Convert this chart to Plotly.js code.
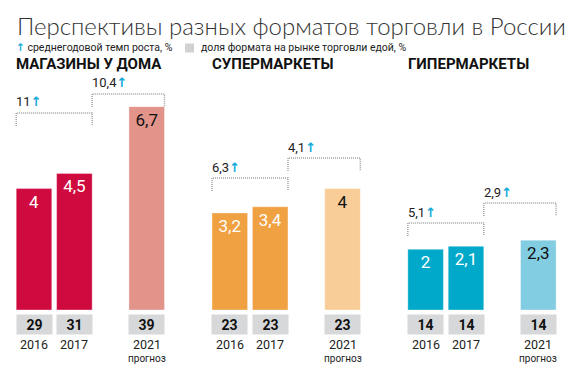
<!DOCTYPE html>
<html>
<head>
<meta charset="utf-8">
<script src="https://cdn.plot.ly/plotly-3.0.1.min.js"></script>
<style>html,body{margin:0;padding:0;background:#fff;}#chart{width:570px;height:375px;}</style>
</head>
<body>
<div id="chart"></div>
<script>
// ---------- DATA ----------
const formats = ['МАГАЗИНЫ У ДОМА', 'СУПЕРМАРКЕТЫ', 'ГИПЕРМАРКЕТЫ'];
const years = ['2016', '2017', '2021'];
const yearNotes = ['', '', 'прогноз'];
const valuesNearHome = [4, 4.5, 6.7];
const valuesSuper = [3.2, 3.4, 4];
const valuesHyper = [2, 2.1, 2.3];
const shareNearHome = [29, 31, 39];
const shareSuper = [23, 23, 23];
const shareHyper = [14, 14, 14];
const growth2016_2017 = [11, 6.3, 5.1];
const growth2017_2021 = [10.4, 4.1, 2.9];
const titleText = 'Перспективы разных форматов торговли в России';
const legendGrowth = 'среднегодовой темп роста, %';
const legendShare = 'доля формата на рынке торговли едой, %';

// ---------- LAYOUT / STYLE ----------
const W = 570, H = 375, PLOT_BOTTOM = 310;
const PX_PER_UNIT = 30.35;
const SLOT = {'2016': 0, '2017': 1, '2021': 2.79};
const SLOT_PX = 40.4, BAR_W = 0.88;
const X_RANGE = [-0.5, 3.3];
const GROUP_FIRST_CENTER = 34, GROUP_STEP = 195.8;
const BRACKET_TOP_PX = [[113, 94], [178, 158], [223, 203]];
const BRACKET_DROP = 13;
const colorsMain = ['#cf0a3f', '#f0a142', '#00a9c9'];
const colorsForecast = ['#e2938a', '#f8cd98', '#82cde1'];
const ARROW = '#14a9d9';
const TXT = '#222';
const FONT = 'Roboto, "Noto Sans", "DejaVu Sans", sans-serif';

const values = [valuesNearHome, valuesSuper, valuesHyper];
const shares = [shareNearHome, shareSuper, shareHyper];
const fmt = v => String(v).replace('.', ',');
const pxX = x => x / W;
const pxY = y => (PLOT_BOTTOM - y) / PLOT_BOTTOM;
const axisIds = ['x', 'x2', 'x3'];

const traces = [];
const annotations = [];
const shapes = [];
const layout = {
  width: W, height: H,
  margin: {l: 0, r: 0, t: 0, b: H - PLOT_BOTTOM, pad: 0},
  paper_bgcolor: '#fff', plot_bgcolor: '#fff',
  showlegend: false,
  font: {family: FONT, color: TXT},
  yaxis: {range: [0, PLOT_BOTTOM / PX_PER_UNIT], visible: false, fixedrange: true},
  annotations, shapes
};

formats.forEach((fname, g) => {
  const xs = years.map(y => SLOT[y]);
  const center0 = GROUP_FIRST_CENTER + g * GROUP_STEP;
  const left = center0 - (0 - X_RANGE[0]) * SLOT_PX;
  const width = (X_RANGE[1] - X_RANGE[0]) * SLOT_PX;
  const axKey = g === 0 ? 'xaxis' : 'xaxis' + (g + 1);
  layout[axKey] = {
    domain: [pxX(left), pxX(left + width)], range: X_RANGE,
    showgrid: false, zeroline: false, showline: false, showticklabels: false,
    ticks: '', fixedrange: true, anchor: 'y'
  };
  const colors = years.map((y, i) => i === 2 ? colorsForecast[g] : colorsMain[g]);
  traces.push({
    type: 'bar', x: xs, y: values[g], xaxis: axisIds[g], yaxis: 'y',
    width: BAR_W,
    marker: {color: colors, line: {color: 'rgba(255,255,255,0.35)', width: 1}},
    text: values[g].map(fmt), textposition: 'inside', insidetextanchor: 'end',
    textangle: 0, constraintext: 'none', cliponaxis: false,
    textfont: {family: FONT, size: 17, color: years.map((y, i) => i === 2 ? '#111' : '#fff')},
    hoverinfo: 'skip'
  });
  const xr = axisIds[g];
  annotations.push({
    xref: xr, yref: 'paper', x: xs[0] - BAR_W / 2, y: pxY(64),
    xanchor: 'left', yanchor: 'middle', showarrow: false, xshift: -2,
    text: fname, font: {family: FONT, size: 15, color: '#111', weight: 700}
  });
  years.forEach((yr, i) => {
    annotations.push({
      xref: xr, yref: 'paper', x: xs[i], y: pxY(324.5),
      xanchor: 'center', yanchor: 'middle', showarrow: false,
      text: String(shares[g][i]), width: 35, height: 19, borderpad: 0,
      bgcolor: '#d7d8da', font: {family: FONT, size: 14, color: '#111', weight: 700}
    });
    annotations.push({
      xref: xr, yref: 'paper', x: xs[i], y: pxY(345),
      xanchor: 'center', yanchor: 'middle', showarrow: false,
      text: yr, font: {family: FONT, size: 12.5, color: '#222'}
    });
    if (yearNotes[i]) {
      annotations.push({
        xref: xr, yref: 'paper', x: xs[i], y: pxY(359),
        xanchor: 'center', yanchor: 'middle', showarrow: false,
        text: yearNotes[i], font: {family: FONT, size: 10, color: '#222'}
      });
    }
  });
  const spans = [
    [xs[0] - BAR_W / 2, xs[1] + BAR_W / 2, growth2016_2017[g]],
    [xs[1] + BAR_W / 2, xs[2] + BAR_W / 2, growth2017_2021[g]]
  ];
  spans.forEach((s, k) => {
    const topPx = BRACKET_TOP_PX[g][k];
    const yt = pxY(topPx), yb = pxY(topPx + BRACKET_DROP);
    shapes.push({
      type: 'path', xref: xr, yref: 'paper',
      path: `M ${s[0]},${yb} L ${s[0]},${yt} L ${s[1]},${yt} L ${s[1]},${yb}`,
      line: {color: '#a3a3a3', width: 1.5, dash: '1px,1px'}
    });
    annotations.push({
      xref: xr, yref: 'paper', x: s[0], y: pxY(topPx - 11),
      xanchor: 'left', yanchor: 'middle', showarrow: false, xshift: -2,
      text: `${fmt(s[2])}<span style="color:${ARROW}"><b>↑</b></span>`,
      font: {family: FONT, size: 13, color: '#222'}
    });
  });
});

annotations.push({
  xref: 'paper', yref: 'paper', x: pxX(15), y: pxY(25),
  xanchor: 'left', yanchor: 'middle', showarrow: false,
  text: titleText, font: {family: 'Lato, "Open Sans", sans-serif', size: 24, color: '#333', weight: 300}
});
annotations.push({
  xref: 'paper', yref: 'paper', x: pxX(14), y: pxY(48),
  xanchor: 'left', yanchor: 'middle', showarrow: false,
  text: `<span style="color:${ARROW}"><b>↑</b></span> ${legendGrowth}`,
  font: {family: FONT, size: 10.5, color: '#222'}
});
shapes.push({
  type: 'rect', xref: 'paper', yref: 'paper',
  x0: pxX(185), x1: pxX(194), y0: pxY(52.5), y1: pxY(43.5),
  fillcolor: '#d0d1d3', line: {width: 0}
});
annotations.push({
  xref: 'paper', yref: 'paper', x: pxX(199), y: pxY(48),
  xanchor: 'left', yanchor: 'middle', showarrow: false,
  text: legendShare, font: {family: FONT, size: 10.5, color: '#222'}
});

Plotly.newPlot('chart', traces, layout, {displayModeBar: false, staticPlot: true});
</script>
</body>
</html>
